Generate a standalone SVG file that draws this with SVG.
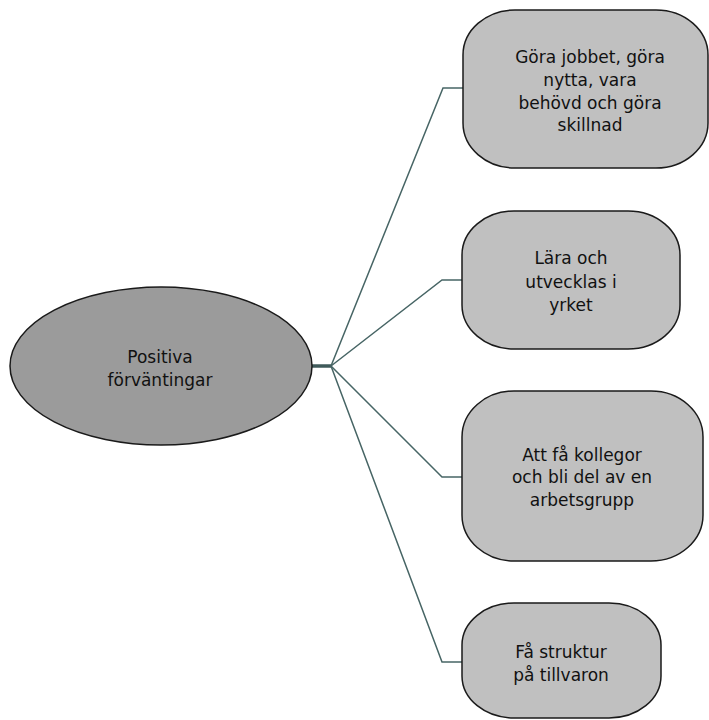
<svg xmlns="http://www.w3.org/2000/svg" width="709" height="720" viewBox="0 0 709 720">
<style>
.box{fill:#c0c0c0;stroke:#1a1a1a;stroke-width:1.5}
.main{fill:#9b9b9b;stroke:#1a1a1a;stroke-width:1.5}
.conn{fill:none;stroke:#476565;stroke-width:1.5}
.stub{fill:none;stroke:#3f5a5a;stroke-width:3.5}
text{font-family:"DejaVu Sans","Liberation Sans",sans-serif;font-size:17px;fill:#111111;text-anchor:middle}
</style>
<rect width="709" height="720" fill="#ffffff"/>
<g id="connectors">
<path class="stub" d="M311 366 H331"/>
<path class="conn" d="M331 366 L443 88 H463"/>
<path class="conn" d="M331 366 L442 280 H462"/>
<path class="conn" d="M331 366 L442 477 H462"/>
<path class="conn" d="M331 366 L442 662 H462"/>
</g>
<g id="center">
<ellipse class="main" cx="161" cy="366" rx="151" ry="79"/>
<text x="160" y="363">Positiva</text>
<text x="160" y="386">förväntingar</text>
</g>
<g id="node1">
<rect class="box" x="463" y="10" width="245" height="158" rx="52" ry="45"/>
<text x="590" y="63">Göra jobbet, göra</text>
<text x="590" y="86">nytta, vara</text>
<text x="590" y="109">behövd och göra</text>
<text x="590" y="131">skillnad</text>
</g>
<g id="node2">
<rect class="box" x="462" y="211" width="218" height="138" rx="52" ry="44"/>
<text x="571" y="264">Lära och</text>
<text x="571" y="288">utvecklas i</text>
<text x="571" y="311">yrket</text>
</g>
<g id="node3">
<rect class="box" x="462" y="391" width="241" height="170" rx="52" ry="46"/>
<text x="582" y="461">Att få kollegor</text>
<text x="582" y="483">och bli del av en</text>
<text x="582" y="506">arbetsgrupp</text>
</g>
<g id="node4">
<rect class="box" x="462" y="603" width="199" height="115" rx="52" ry="42"/>
<text x="561" y="658">Få struktur</text>
<text x="561" y="681">på tillvaron</text>
</g>
</svg>
